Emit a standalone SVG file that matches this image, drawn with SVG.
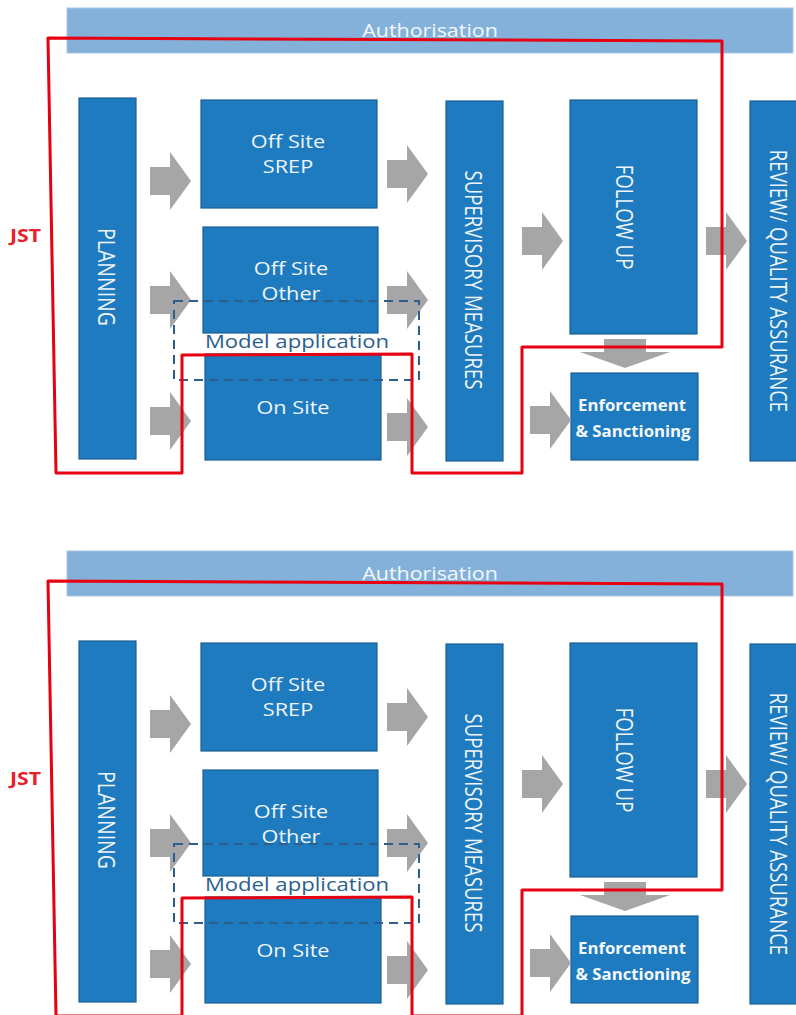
<svg xmlns="http://www.w3.org/2000/svg" width="796" height="1015" viewBox="0 0 796 1015">
<style>
.bg{fill:#ffffff}
.auth{fill:#83b1d9;stroke:#a9c8e6;stroke-width:1}
.authT{font-family:"Open Sans","Noto Sans",sans-serif;font-size:18px;fill:#f4f8fc;text-anchor:middle}
.box{fill:#1f7bbf;stroke:#1a5f95;stroke-width:1.2}
.t{font-family:"Open Sans","Noto Sans",sans-serif;font-size:17.5px;fill:#eef4fa;text-anchor:middle}
.vt{font-family:"Open Sans","Noto Sans",sans-serif;font-size:18.6px;fill:#eef4fa;text-anchor:middle;dominant-baseline:central}
.tb{font-family:"Open Sans","Noto Sans",sans-serif;font-size:15.5px;font-weight:bold;fill:#f4f8fc;text-anchor:middle}
.arr{fill:#a6a6a6}
.dash{fill:none;stroke:#2c5f8e;stroke-width:2;stroke-dasharray:9 6}
.mt{font-family:"Open Sans","Noto Sans",sans-serif;font-size:18px;fill:#2c5f8e;text-anchor:middle}
.red{fill:none;stroke:#e60012;stroke-width:3;stroke-linejoin:round}
.jst{font-family:"Open Sans","Noto Sans",sans-serif;font-size:17px;font-weight:bold;fill:#e8202a}
</style>
<rect class="bg" x="0" y="0" width="796" height="1015"/>
<g id="panel1">
  <g id="p1-authorisation"><rect class="auth" x="67" y="8" width="726" height="45"/><text class="authT" transform="translate(430,37) scale(1.19,1)">Authorisation</text></g>
  <g id="p1-planning"><rect class="box" x="79" y="98" width="57" height="361"/><text class="vt" style="font-size:19.5px" transform="translate(108,277) scale(1.25,1) rotate(90)">PLANNING</text></g>
  <g id="p1-offsite-srep"><rect class="box" x="201" y="100" width="176" height="108"/><text class="t" transform="translate(288,148) scale(1.24,1)">Off Site</text><text class="t" transform="translate(288,173) scale(1.24,1)">SREP</text></g>
  <g id="p1-offsite-other"><rect class="box" x="203" y="227" width="175" height="106"/><text class="t" transform="translate(291,275) scale(1.24,1)">Off Site</text><text class="t" transform="translate(291,300) scale(1.24,1)">Other</text></g>
  <g id="p1-onsite"><rect class="box" x="205" y="354" width="176" height="106"/><text class="t" transform="translate(293,414) scale(1.24,1)">On Site</text></g>
  <g id="p1-supervisory"><rect class="box" x="446" y="101" width="57" height="360"/><text class="vt" transform="translate(474,280) scale(1.25,1) rotate(90)">SUPERVISORY MEASURES</text></g>
  <g id="p1-followup"><rect class="box" x="570" y="100" width="127" height="234"/><text class="vt" transform="translate(625,217) scale(1.25,1) rotate(90)">FOLLOW UP</text></g>
  <g id="p1-enforcement"><rect class="box" x="571" y="373" width="127" height="87"/><text class="tb" transform="translate(632,411) scale(1.08,1)">Enforcement</text><text class="tb" transform="translate(633,437) scale(1.08,1)">&amp; Sanctioning</text></g>
  <g id="p1-review"><rect class="box" x="750" y="101" width="60" height="360"/><text class="vt" transform="translate(779,281) scale(1.25,1) rotate(90)">REVIEW/ QUALITY ASSURANCE</text></g>
  <g id="p1-connectors">
    <path class="arr" d="M150,167 H170 V152 L191,181 L170,210 V195 H150 Z"/>
    <path class="arr" d="M150,286 H170 V271 L191,300 L170,329 V314 H150 Z"/>
    <path class="arr" d="M150,407 H170 V392 L191,421 L170,450 V435 H150 Z"/>
    <path class="arr" d="M387,160 H407 V145 L428,174 L407,203 V188 H387 Z"/>
    <path class="arr" d="M387,286 H407 V271 L428,300 L407,329 V314 H387 Z"/>
    <path class="arr" d="M387,413 H407 V398 L428,427 L407,456 V441 H387 Z"/>
    <path class="arr" d="M522,227 H542 V212 L563,241 L542,270 V255 H522 Z"/>
    <path class="arr" d="M530,406 H550 V391 L571,420 L550,449 V434 H530 Z"/>
    <path class="arr" d="M706,227 H726 V212 L747,241 L726,270 V255 H706 Z"/>
    <path class="arr" d="M604,339 H646 V352 H670 L625,368 L580,352 H604 Z"/>
  </g>
  <g id="p1-model-application"><rect class="dash" x="174" y="301" width="245" height="79"/><text class="mt" transform="translate(297,348) scale(1.23,1)">Model application</text></g>
  <g id="p1-jst"><path class="red" d="M48,38 L722,41 L722,347 L522,347 L522,473 L412,473 L412,354 L182,355 L182,473 L56,473 Z"/><text class="jst" transform="translate(10,242) scale(1.25,1)">JST</text></g>
</g>
<g id="panel2" transform="translate(0,543)">
  <g id="p2-authorisation"><rect class="auth" x="67" y="8" width="726" height="45"/><text class="authT" transform="translate(430,37) scale(1.19,1)">Authorisation</text></g>
  <g id="p2-planning"><rect class="box" x="79" y="98" width="57" height="361"/><text class="vt" style="font-size:19.5px" transform="translate(108,277) scale(1.25,1) rotate(90)">PLANNING</text></g>
  <g id="p2-offsite-srep"><rect class="box" x="201" y="100" width="176" height="108"/><text class="t" transform="translate(288,148) scale(1.24,1)">Off Site</text><text class="t" transform="translate(288,173) scale(1.24,1)">SREP</text></g>
  <g id="p2-offsite-other"><rect class="box" x="203" y="227" width="175" height="106"/><text class="t" transform="translate(291,275) scale(1.24,1)">Off Site</text><text class="t" transform="translate(291,300) scale(1.24,1)">Other</text></g>
  <g id="p2-onsite"><rect class="box" x="205" y="354" width="176" height="106"/><text class="t" transform="translate(293,414) scale(1.24,1)">On Site</text></g>
  <g id="p2-supervisory"><rect class="box" x="446" y="101" width="57" height="360"/><text class="vt" transform="translate(474,280) scale(1.25,1) rotate(90)">SUPERVISORY MEASURES</text></g>
  <g id="p2-followup"><rect class="box" x="570" y="100" width="127" height="234"/><text class="vt" transform="translate(625,217) scale(1.25,1) rotate(90)">FOLLOW UP</text></g>
  <g id="p2-enforcement"><rect class="box" x="571" y="373" width="127" height="87"/><text class="tb" transform="translate(632,411) scale(1.08,1)">Enforcement</text><text class="tb" transform="translate(633,437) scale(1.08,1)">&amp; Sanctioning</text></g>
  <g id="p2-review"><rect class="box" x="750" y="101" width="60" height="360"/><text class="vt" transform="translate(779,281) scale(1.25,1) rotate(90)">REVIEW/ QUALITY ASSURANCE</text></g>
  <g id="p2-connectors">
    <path class="arr" d="M150,167 H170 V152 L191,181 L170,210 V195 H150 Z"/>
    <path class="arr" d="M150,286 H170 V271 L191,300 L170,329 V314 H150 Z"/>
    <path class="arr" d="M150,407 H170 V392 L191,421 L170,450 V435 H150 Z"/>
    <path class="arr" d="M387,160 H407 V145 L428,174 L407,203 V188 H387 Z"/>
    <path class="arr" d="M387,286 H407 V271 L428,300 L407,329 V314 H387 Z"/>
    <path class="arr" d="M387,413 H407 V398 L428,427 L407,456 V441 H387 Z"/>
    <path class="arr" d="M522,227 H542 V212 L563,241 L542,270 V255 H522 Z"/>
    <path class="arr" d="M530,406 H550 V391 L571,420 L550,449 V434 H530 Z"/>
    <path class="arr" d="M706,227 H726 V212 L747,241 L726,270 V255 H706 Z"/>
    <path class="arr" d="M604,339 H646 V352 H670 L625,368 L580,352 H604 Z"/>
  </g>
  <g id="p2-model-application"><rect class="dash" x="174" y="301" width="245" height="79"/><text class="mt" transform="translate(297,348) scale(1.23,1)">Model application</text></g>
  <g id="p2-jst"><path class="red" d="M48,38 L722,41 L722,347 L522,347 L522,473 L412,473 L412,354 L182,355 L182,473 L56,473 Z"/><text class="jst" transform="translate(10,242) scale(1.25,1)">JST</text></g>
</g>
</svg>
